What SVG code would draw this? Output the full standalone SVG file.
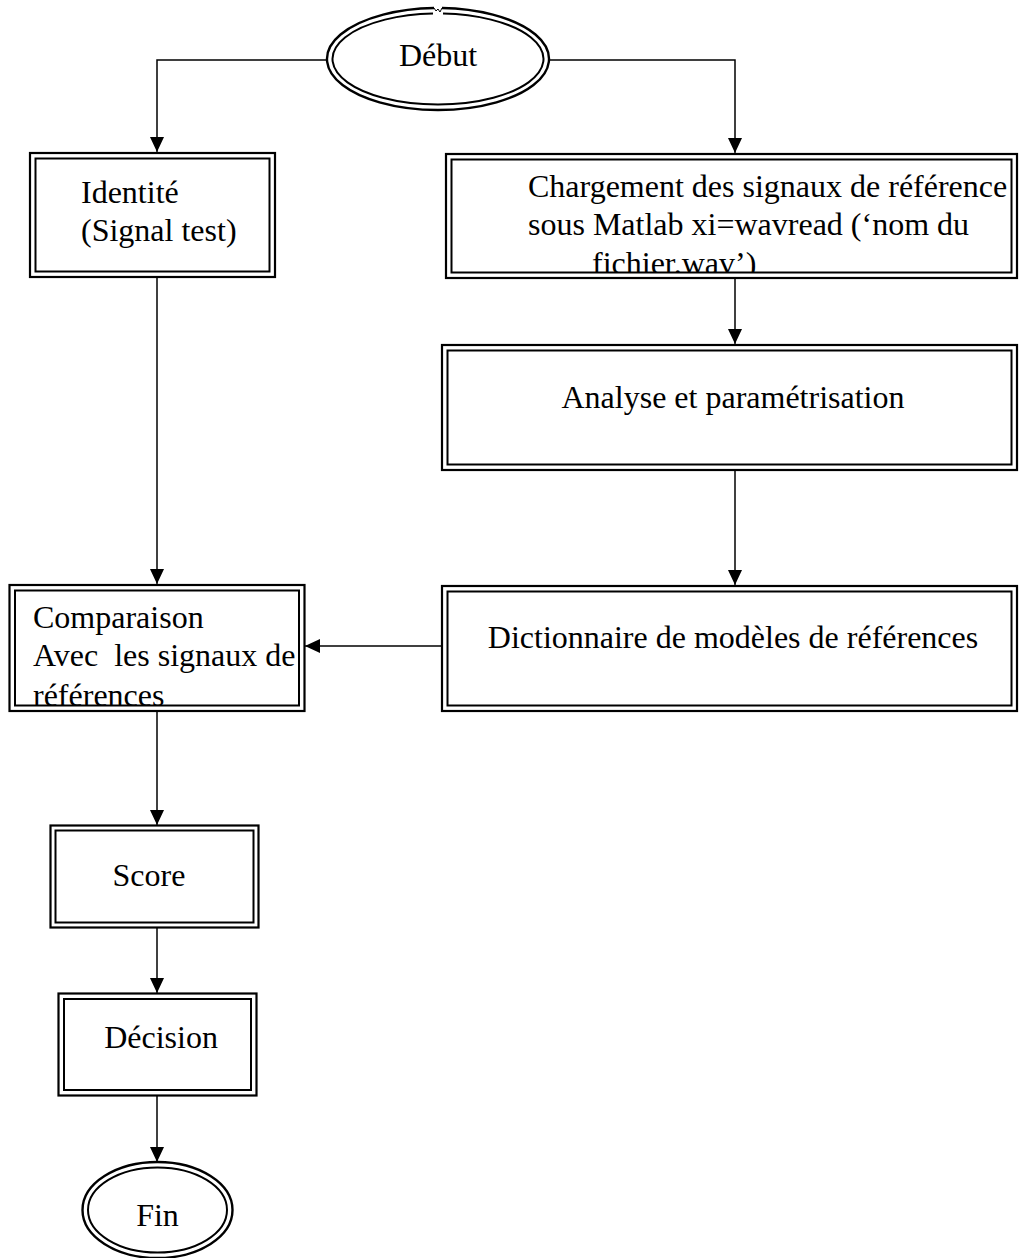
<svg xmlns="http://www.w3.org/2000/svg" width="1019" height="1258" viewBox="0 0 1019 1258">
  <style>
    .bg { fill: #ffffff; }
    .frame { fill: #ffffff; stroke: #000000; stroke-width: 2.2; }
    .inner { fill: none; stroke: #000000; stroke-width: 2; }
    .oval { fill: #ffffff; stroke: #000000; stroke-width: 2.4; }
    .oval-in { fill: none; stroke: #000000; stroke-width: 2; }
    .lbl { font-family: "Liberation Serif", "Times New Roman", serif; font-size: 32px; fill: #000000; white-space: pre; }
    .mid { text-anchor: middle; }
    .edge { fill: none; stroke: #000000; stroke-width: 1.5; marker-end: url(#arrow); }
  </style>
  <defs>
    <marker id="arrow" markerUnits="userSpaceOnUse" markerWidth="14" markerHeight="15" refX="15" refY="7" orient="auto">
      <path d="M0,0 L15,7 L0,14 Z" fill="#000000"/>
    </marker>
    <clipPath id="clip-charg"><rect x="452" y="160" width="559" height="112"/></clipPath>
    <clipPath id="clip-comp"><rect x="16" y="591" width="282" height="114"/></clipPath>
  </defs>

  <rect class="bg" x="0" y="0" width="1019" height="1258"/>

  <!-- connectors -->
  <g id="connectors">
    <polyline class="edge" points="327,60 157,60 157,152"/>
    <polyline class="edge" points="549,60 735,60 735,153"/>
    <line class="edge" x1="735" y1="278" x2="735" y2="344"/>
    <line class="edge" x1="735" y1="470" x2="735" y2="585"/>
    <line class="edge" x1="442" y1="646" x2="305" y2="646"/>
    <line class="edge" x1="157" y1="277" x2="157" y2="584"/>
    <line class="edge" x1="157" y1="712" x2="157" y2="825"/>
    <line class="edge" x1="157" y1="928" x2="157" y2="993"/>
    <line class="edge" x1="157" y1="1096" x2="157" y2="1162"/>
  </g>

  <!-- start oval -->
  <g id="debut">
    <path class="oval" d="M434,8 A111,51 0 1 0 442,8"/>
    <path class="oval-in" d="M433,13.5 A105.5,45.5 0 1 0 443,13.5"/>
    <path d="M434,8 L436,11 L438,9 L440,12 L442,8" fill="none" stroke="#000" stroke-width="1"/>
    <text class="lbl mid" x="438" y="66">Début</text>
  </g>

  <g id="identite">
    <rect class="frame" x="30" y="153" width="245" height="124"/>
    <rect class="inner" x="35.5" y="158.5" width="234" height="113"/>
    <text class="lbl" x="81" y="203">Identité</text>
    <text class="lbl" x="81" y="241">(Signal test)</text>
  </g>

  <g id="chargement">
    <rect class="frame" x="446" y="154" width="571" height="124"/>
    <rect class="inner" x="451.5" y="159.5" width="560" height="113"/>
    <g clip-path="url(#clip-charg)">
      <text class="lbl" x="528" y="197">Chargement des signaux de référence</text>
      <text class="lbl" x="528" y="235">sous Matlab xi=wavread (‘nom du</text>
      <text class="lbl" x="592" y="274">fichier.wav’)</text>
    </g>
  </g>

  <g id="analyse">
    <rect class="frame" x="442" y="345" width="575" height="125"/>
    <rect class="inner" x="447.5" y="350.5" width="564" height="114"/>
    <text class="lbl mid" x="733" y="408">Analyse et paramétrisation</text>
  </g>

  <g id="dictionnaire">
    <rect class="frame" x="442" y="586" width="575" height="125"/>
    <rect class="inner" x="447.5" y="591.5" width="564" height="114"/>
    <text class="lbl mid" x="733" y="648">Dictionnaire de modèles de références</text>
  </g>

  <g id="comparaison">
    <rect class="frame" x="9.5" y="585" width="295" height="126"/>
    <rect class="inner" x="15" y="590.5" width="284" height="115"/>
    <g clip-path="url(#clip-comp)">
      <text class="lbl" x="33" y="628">Comparaison</text>
      <text class="lbl" x="33" y="666">Avec  les signaux de</text>
      <text class="lbl" x="33" y="706">références</text>
    </g>
  </g>

  <g id="score">
    <rect class="frame" x="50.5" y="825.5" width="208" height="102"/>
    <rect class="inner" x="55.5" y="830.5" width="198" height="92"/>
    <text class="lbl mid" x="149" y="886">Score</text>
  </g>

  <g id="decision">
    <rect class="frame" x="58.5" y="993.5" width="198" height="102"/>
    <rect class="inner" x="64" y="999" width="187" height="91"/>
    <text class="lbl mid" x="161" y="1048">Décision</text>
  </g>

  <!-- end oval -->
  <g id="fin">
    <ellipse class="oval" cx="157.5" cy="1210" rx="75" ry="48"/>
    <ellipse class="oval-in" cx="157.5" cy="1210" rx="69.5" ry="42.5"/>
    <text class="lbl mid" x="157.5" y="1226">Fin</text>
  </g>
</svg>
